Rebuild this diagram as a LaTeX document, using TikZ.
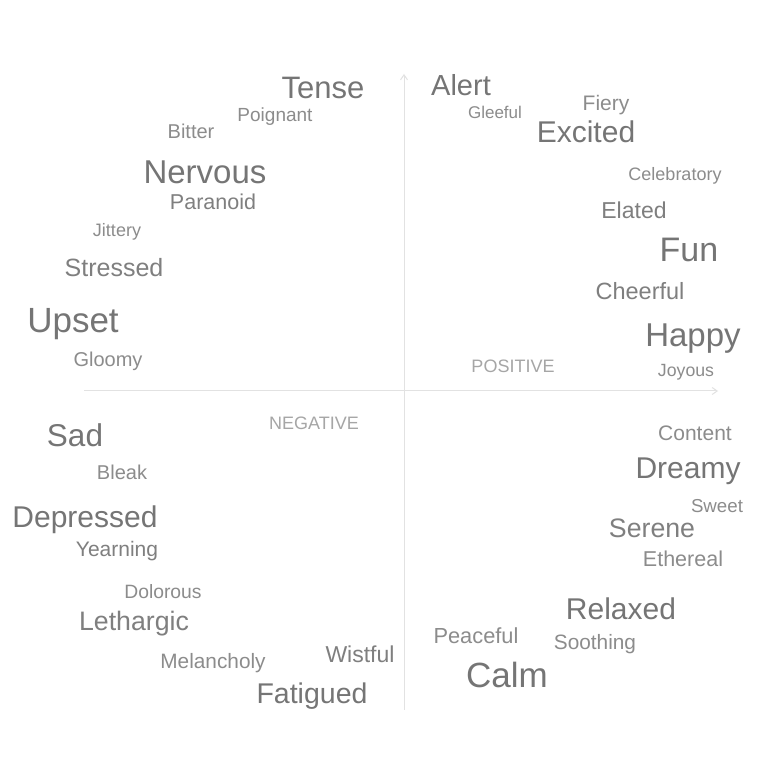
\documentclass[tikz,border=0pt]{standalone}
\usepackage{fontspec}
\setmainfont{Liberation Sans}
\usetikzlibrary{arrows.meta}
\definecolor{dg}{HTML}{757575}
\definecolor{mg}{HTML}{7F7F7F}
\definecolor{lg}{HTML}{8C8C8C}
\definecolor{axl}{HTML}{A6A6A6}
\definecolor{axc}{HTML}{E2E2E2}
\tikzset{
  wd/.style={font=\fontsize{#1}{#1}\selectfont, anchor=base, inner sep=0pt, yshift=-1.5pt},
  big/.style={wd=#1, text=dg},
  mid/.style={wd=#1, text=mg},
  sml/.style={wd=#1, text=lg},
  axlab/.style={wd=18, text=axl},
  axis/.style={draw=axc, line width=1pt, -{Straight Barb[length=5pt,width=7pt]}}
}
\begin{document}
\begin{tikzpicture}[x=1pt,y=1pt]
\useasboundingbox (0,0) rectangle (784,784);
\fill[white] (0,0) rectangle (784,784);
% axes
\coordinate (vb) at (404,74);
\coordinate (vt) at (404,710);
\coordinate (hl) at (84,393);
\coordinate (hr) at (718,393);
\draw[axis] (vb) -- (vt);
\draw[axis] (hl) -- (hr);
% words
\node[big=31] (tense) at (323,686.8) {Tense};
\node[big=29] (alert) at (461,690.4) {Alert};
\node[sml=17] (gleeful) at (495,667.4) {Gleeful};
\node[sml=21] (fiery) at (606,675) {Fiery};
\node[big=30] (excited) at (586,643) {Excited};
\node[sml=19] (poignant) at (275,663.7) {Poignant};
\node[sml=20] (bitter) at (191,647.4) {Bitter};
\node[big=33] (nervous) at (205,602) {Nervous};
\node[mid=21.5] (paranoid) at (213,576) {Paranoid};
\node[sml=18] (celebratory) at (675,605) {Celebratory};
\node[mid=23] (elated) at (634,567.4) {Elated};
\node[sml=18] (jittery) at (117,549) {Jittery};
\node[big=34] (fun) at (689,523.8) {Fun};
\node[mid=25] (stressed) at (114,508.7) {Stressed};
\node[mid=23.5] (cheerful) at (640,486.2) {Cheerful};
\node[big=35] (upset) at (73,452.5) {Upset};
\node[big=33] (happy) at (693,439) {Happy};
\node[sml=20] (gloomy) at (108,419.4) {Gloomy};
\node[axlab] (positive) at (513,412.5) {POSITIVE};
\node[sml=17.7] (joyous) at (686,409.2) {Joyous};
\node[axlab] (negative) at (314,355.5) {NEGATIVE};
\node[big=31.5] (sad) at (75,338.6) {Sad};
\node[sml=21] (content) at (695,345) {Content};
\node[sml=20] (bleak) at (122,306.4) {Bleak};
\node[big=30] (dreamy) at (688,307) {Dreamy};
\node[sml=18.7] (sweet) at (717,273) {Sweet};
\node[big=30] (depressed) at (85,258) {Depressed};
\node[mid=26.7] (serene) at (652,248.2) {Serene};
\node[mid=21] (yearning) at (117,229) {Yearning};
\node[sml=21.5] (ethereal) at (683,219) {Ethereal};
\node[sml=19.3] (dolorous) at (163,186.6) {Dolorous};
\node[big=30] (relaxed) at (621,166) {Relaxed};
\node[mid=26.7] (lethargic) at (134,155.2) {Lethargic};
\node[sml=21.8] (peaceful) at (476,141.8) {Peaceful};
\node[sml=20.8] (soothing) at (595,136.1) {Soothing};
\node[mid=23] (wistful) at (360,123.4) {Wistful};
\node[sml=20.8] (melancholy) at (213,117.1) {Melancholy};
\node[big=35] (calm) at (507,97.5) {Calm};
\node[big=28.5] (fatigued) at (312,81.6) {Fatigued};
\end{tikzpicture}
\end{document}
